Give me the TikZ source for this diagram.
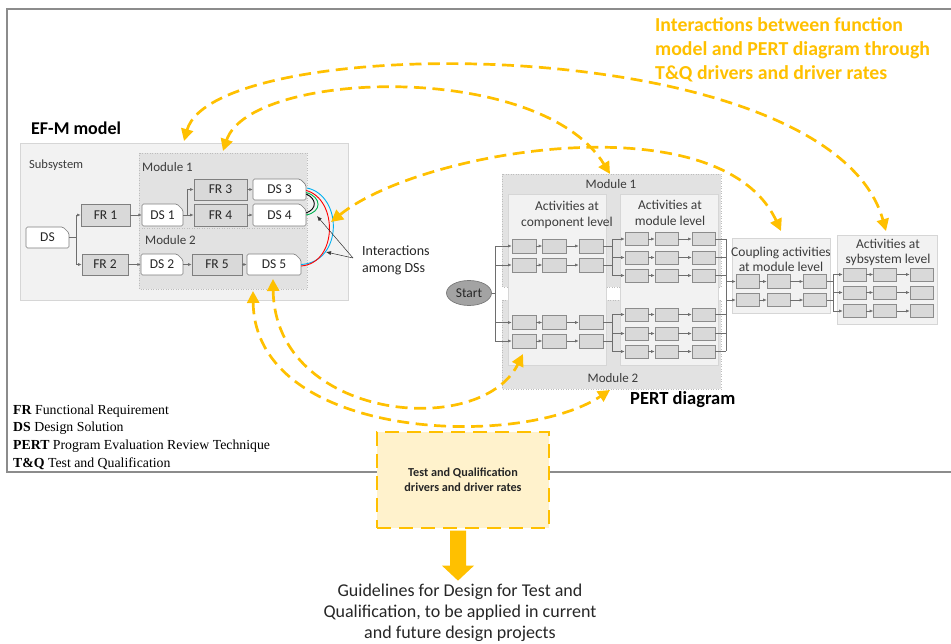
\documentclass[tikz,border=0pt]{standalone}
\usepackage{fontspec}
\setmainfont{Carlito}
\newfontfamily\legendfont{Liberation Serif}
\usetikzlibrary{arrows.meta,calc,shapes.geometric}
\definecolor{gold}{HTML}{FFC000}
\definecolor{lightgold}{HTML}{FFF2CC}
\definecolor{panel}{HTML}{F2F2F2}
\definecolor{panelborder}{HTML}{D6D6D6}
\definecolor{modfill}{HTML}{E2E2E2}
\definecolor{regborder}{HTML}{BDBDBD}
\definecolor{boxfill}{HTML}{D9D9D9}
\definecolor{boxborder}{HTML}{7F7F7F}
\definecolor{pborder}{HTML}{8C8C8C}
\definecolor{lineg}{HTML}{6E6E6E}
\definecolor{startfill}{HTML}{A3A3A3}
\definecolor{startborder}{HTML}{7A7A7A}
\definecolor{framec}{HTML}{8C8C8C}
\definecolor{txt}{HTML}{262626}
\definecolor{iblue}{HTML}{00B0F0}
\definecolor{ired}{HTML}{FF0000}
\definecolor{igreen}{HTML}{00B050}
\newcommand\DSnode[6]{%
  \draw[dsline] (#2,#5) -- (#2,#3) -- ({#4-6},#3) -- (#4,{#3+6}) -- (#4,#5) -- cycle;
  \node[dstext, minimum width={(#4-#2)*1pt}, minimum height={(#5-#3)*1pt}] (#1) at ({(#2+#4)/2},{(#3+#5)/2}) {#6};}
\newcommand\FRnode[6]{%
  \node[frbox, minimum width={(#4-#2)*1pt}, minimum height={(#5-#3)*1pt}] (#1) at ({(#2+#4)/2},{(#3+#5)/2}) {#6};}
\tikzset{
 frbox/.style={draw=boxborder, fill=boxfill, inner sep=0pt, line width=0.7pt, font=\fontsize{13.5}{15}\selectfont, text=txt},
 dstext/.style={inner sep=0pt, font=\fontsize{13.5}{15}\selectfont, text=txt},
 dsline/.style={draw=boxborder, fill=white, line width=0.7pt, rounded corners=1.5pt},
 pbox/.style={draw=pborder, fill=boxfill, inner sep=0pt, minimum width=23pt, minimum height=13pt, line width=0.6pt},
 conn/.style={draw=lineg, line width=0.6pt},
 arr/.style={conn, -{Latex[length=3.5pt,width=3pt]}},
 thinarr/.style={draw=black!80, line width=0.5pt, -{Latex[length=5pt,width=4pt]}},
 golddash/.style={draw=gold, line width=2.7pt, dash pattern=on 12pt off 6.5pt, {Triangle[length=12pt,width=12pt]}-{Triangle[length=12pt,width=12pt]}},
 region/.style={fill=modfill, draw=regborder, dotted, line width=0.5pt},
 panelbox/.style={fill=panel, draw=panelborder, line width=0.6pt},
 lbl/.style={font=\fontsize{13}{15.5}\selectfont, text=txt!90, align=center, inner sep=0pt},
}
\begin{document}
\begin{tikzpicture}[x=1pt,y=-1pt]
\useasboundingbox (0,0) rectangle (951,644);
% outer frame
\draw[framec, line width=1.2pt] (7,9) rectangle (965,472);
% title
\node[anchor=north west, inner sep=0pt, align=left, text=gold, font=\bfseries\fontsize{19.8}{24}\selectfont] (title) at (655,17)
 {Interactions between function\\model and PERT diagram through\\T\&Q drivers and driver rates};
% ---------------- EF-M model
\node[anchor=west, inner sep=0pt, font=\bfseries\fontsize{18}{21}\selectfont] (efm) at (31,128) {EF-M model};
\draw[panelbox] (20,143) rectangle (348,300);
\draw[region] (139,153) rectangle (307,228);
\draw[region] (139,228) rectangle (307,289);
\node[anchor=west, font=\fontsize{12.5}{15}\selectfont, text=txt!90, inner sep=0pt] (subs) at (29,165) {Subsystem};
\node[anchor=west, font=\fontsize{13}{15}\selectfont, text=txt!90, inner sep=0pt] (mod1) at (142,167.5) {Module 1};
\node[anchor=west, font=\fontsize{13}{15}\selectfont, text=txt!90, inner sep=0pt] (mod2) at (145,240) {Module 2};
\DSnode{ds0}{26}{227}{69}{248}{DS}
\FRnode{fr1}{81}{204}{130}{226}{FR 1}
\DSnode{ds1}{142}{204}{183}{226}{DS 1}
\FRnode{fr3}{194}{179}{247}{200}{FR 3}
\DSnode{ds3}{253}{179}{306}{200}{DS 3}
\FRnode{fr4}{194}{204}{247}{226}{FR 4}
\DSnode{ds4}{253}{204}{306}{226}{DS 4}
\FRnode{fr2}{82}{254}{128}{275}{FR 2}
\DSnode{ds2}{141}{254}{183}{275}{DS 2}
\FRnode{fr5}{192}{254}{242}{275}{FR 5}
\DSnode{ds5}{247}{254}{301}{275}{DS 5}
\coordinate (ej) at (76,0);
\draw[conn] (ds0.east) -- (ds0.east -| ej);
\draw[conn] (ej |- fr1) -- (ej |- fr2);
\draw[arr] (ej |- fr1) -- (fr1.west);
\draw[arr] (ej |- fr2) -- (fr2.west);
\draw[arr] (fr1) -- (ds1);
\coordinate (ek) at (187,0);
\draw[conn] (ds1.east) -- (ds1.east -| ek);
\draw[conn] (ek |- fr3) -- (ek |- fr4);
\draw[arr] (ek |- fr3) -- (fr3.west);
\draw[arr] (ek |- fr4) -- (fr4.west);
\draw[arr] (fr3) -- (ds3);
\draw[arr] (fr4) -- (ds4);
\draw[arr] (fr2) -- (ds2);
\draw[arr] (ds2) -- (fr5);
\draw[arr] (fr5) -- (ds5);
% interactions among DSs
\coordinate (d3a) at ($(ds3.east)+(1,-1.5)$);
\coordinate (d3b) at ($(ds3.east)+(0,1)$);
\coordinate (d3c) at ($(ds3.east)+(0,3)$);
\coordinate (d3d) at ($(ds3.east)+(0,4.5)$);
\coordinate (d4a) at ($(ds4.east)+(0,0)$);
\coordinate (d4b) at ($(ds4.east)+(0,-2)$);
\coordinate (d5a) at ($(ds5.east)+(0,0)$);
\coordinate (d5b) at ($(ds5.east)+(0,1.5)$);
\draw[iblue, line width=0.9pt] (d3a) .. controls (343,196) and (343,262) .. (d5a);
\draw[ired, line width=0.9pt] (d3b) .. controls (338,199) and (338,263) .. (d5b);
\draw[igreen, line width=0.9pt] (d3c) .. controls (322,197) and (322,212) .. (d4a);
\draw[black, line width=0.9pt] (d3d) .. controls (317,199) and (317,209) .. (d4b);
\node[anchor=north west, align=left, inner sep=0pt, font=\fontsize{14}{17}\selectfont, text=txt] (iact) at (362,246) {Interactions\\among DSs};
\coordinate (ij) at (353,258);
\coordinate (it1) at (317,216);
\coordinate (it2) at (326,252);
\draw[thinarr] (ij) -- (it1);
\draw[thinarr] (ij) -- (it2);
% ---------------- PERT
\draw[region] (502,174) rectangle (721,287);
\draw[region] (502,300) rectangle (721,389);
\draw[panelbox] (508,194) rectangle (606,365);
\draw[panelbox] (620,194) rectangle (718,365);
\draw[panelbox] (732,238) rectangle (830,313);
\draw[panelbox] (837,235) rectangle (937,324);
\node[lbl] (pm1) at (611,184) {Module 1};
\node[lbl] (pm2) at (613,378) {Module 2};
\node[lbl, font=\fontsize{13.5}{16}\selectfont] (acomp) at (567,215) {Activities at\\component level};
\node[lbl, font=\fontsize{13.5}{16}\selectfont] (amod) at (670,213) {Activities at\\module level};
\node[lbl, font=\fontsize{13.5}{15}\selectfont] (acoup) at (781,259) {Coupling activities\\at module level};
\node[lbl, font=\fontsize{13.5}{15}\selectfont] (asub) at (888,252) {Activities at\\sybsystem level};
\node[ellipse, draw=startborder, fill=startfill, line width=0.7pt, minimum width=45pt, minimum height=25pt, inner sep=0pt, font=\fontsize{13.5}{15}\selectfont, text=txt] (start) at (469,293) {Start};
\foreach \r/\y in {1/246,2/265,3/322.5,4/341}{
  \foreach \c/\x in {1/524,2/554.5,3/591}{
    \node[pbox, minimum width=24pt, minimum height=14pt] (c\r\c) at (\x,\y) {};
  }
  \draw[arr] (c\r1) -- (c\r2);
  \draw[arr] (c\r2) -- (c\r3);
}
\foreach \r/\y in {1/239,2/257.5,3/275.5,4/314.5,5/333.5,6/351.5}{
  \foreach \c/\x in {1/636.5,2/666.5,3/703.5}{
    \node[pbox] (m\r\c) at (\x,\y) {};
  }
  \draw[arr] (m\r1) -- (m\r2);
  \draw[arr] (m\r2) -- (m\r3);
}
\foreach \r/\y in {1/281.5,2/300}{
  \foreach \c/\x in {1/747.5,2/778.5,3/815}{
    \node[pbox, minimum height=13.5pt] (k\r\c) at (\x,\y) {};
  }
  \draw[arr] (k\r1) -- (k\r2);
  \draw[arr] (k\r2) -- (k\r3);
}
\foreach \r/\y in {1/274.5,2/292.5,3/311}{
  \foreach \c/\x in {1/854.5,2/885,3/921.5}{
    \node[pbox] (s\r\c) at (\x,\y) {};
  }
  \draw[arr] (s\r1) -- (s\r2);
  \draw[arr] (s\r2) -- (s\r3);
}
\coordinate (sj) at (495,293);
\draw[conn] (start.east) -- (sj);
\draw[conn] (sj |- c11) -- (sj |- c41);
\foreach \r in {1,...,4}{\draw[arr] (sj |- c\r1) -- (c\r1.west);}
\coordinate (ja) at (612,0);
\foreach \r in {1,...,4}{\draw[conn] (c\r3.east) -- (c\r3.east -| ja);}
\draw[conn] (ja |- m11) -- (ja |- m31);
\draw[conn] (ja |- m41) -- (ja |- m61);
\foreach \r in {1,...,6}{\draw[arr] (ja |- m\r1) -- (m\r1.west);}
\coordinate (jb) at (726,0);
\foreach \r in {1,...,6}{\draw[conn] (m\r3.east) -- (m\r3.east -| jb);}
\draw[conn] (jb |- m13) -- (jb |- m63);
\foreach \r in {1,2}{\draw[arr] (jb |- k\r1) -- (k\r1.west);}
\coordinate (jc) at (833,0);
\foreach \r in {1,2}{\draw[conn] (k\r3.east) -- (k\r3.east -| jc);}
\draw[conn] (jc |- s11) -- (jc |- s31);
\foreach \r in {1,2,3}{\draw[arr] (jc |- s\r1) -- (s\r1.west);}
\node[anchor=west, inner sep=0pt, font=\bfseries\fontsize{18.5}{21}\selectfont] (pert) at (630,400) {PERT diagram};
% ---------------- legend
\node[anchor=north west, align=left, inner sep=0pt, font=\legendfont\fontsize{13.8}{17.7}\selectfont] (legend) at (13,404.5)
 {\textbf{FR} Functional Requirement\\\textbf{DS} Design Solution\\\textbf{PERT} Program Evaluation Review Technique\\\textbf{T\&Q} Test and Qualification};
% ---------------- T&Q box and output
\node[draw=gold, fill=lightgold, line width=2.7pt, dash pattern=on 14pt off 8pt, minimum width=172pt, minimum height=96pt, inner sep=0pt, align=center, font=\bfseries\fontsize{12.2}{15}\selectfont, text=txt] (tq) at (463,480) {Test and Qualification\\drivers and driver rates};
\coordinate (ab) at ($(tq.south)+(-5,1.3)$);
\fill[gold] ($(ab)+(-8,0)$) -- ($(ab)+(8,0)$) -- ($(ab)+(8,35)$) -- ($(ab)+(16,35)$) -- ($(ab)+(0,50)$) -- ($(ab)+(-16,35)$) -- ($(ab)+(-8,35)$) -- cycle;
\node[align=center, inner sep=0pt, font=\fontsize{18}{21}\selectfont, text=txt] (guide) at (460,613) {Guidelines for Design for Test and\\Qualification, to be applied in current\\and future design projects};
% ---------------- gold dashed interactions
\coordinate (ga1) at (184,141);
\coordinate (ga2) at (886,231);
\coordinate (gb1) at (223,151);
\coordinate (gb2) at (610,174);
\coordinate (gc1) at (331,222);
\coordinate (gc2) at (781,231);
\coordinate (gd1) at (273,279);
\coordinate (gd2) at (523,354);
\coordinate (ge1) at (253,291);
\coordinate (ge2) at (610,390);
\draw[golddash] (ga1) .. controls (215,30) and (830,30) .. (ga2);
\draw[golddash] (gb1) .. controls (250,70) and (540,60) .. (gb2);
\draw[golddash] (gc1) .. controls (420,150) and (720,100) .. (gc2);
\draw[golddash] (gd1) .. controls (275,420) and (480,440) .. (gd2);
\draw[golddash] (ge1) .. controls (255,440) and (520,450) .. (ge2);
\end{tikzpicture}
\end{document}
